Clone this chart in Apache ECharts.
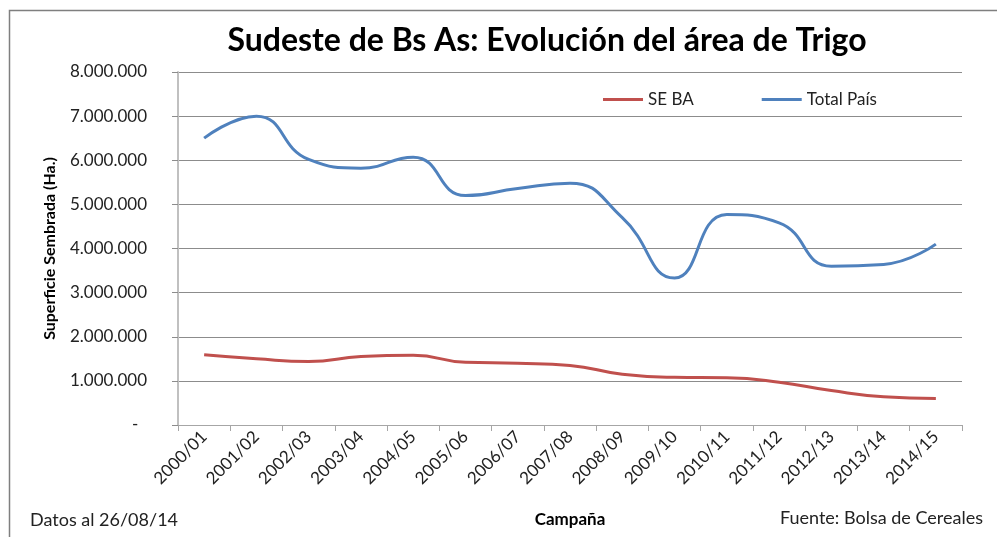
<!DOCTYPE html>
<html>
<head>
<meta charset="utf-8">
<script src="https://cdn.jsdelivr.net/npm/echarts@6/dist/echarts.min.js"></script>
<style>
html, body { margin: 0; padding: 0; background: #fff; }
#chartmain { width: 997px; height: 537px; }
</style>
</head>
<body>
<div id="chartmain"></div>
<script>
var campanias = ['2000/01', '2001/02', '2002/03', '2003/04', '2004/05', '2005/06', '2006/07', '2007/08',
    '2008/09', '2009/10', '2010/11', '2011/12', '2012/13', '2013/14', '2014/15'];
var seBA = [1590000, 1500000, 1440000, 1550000, 1580000, 1420000, 1400000, 1350000,
    1150000, 1080000, 1070000, 970000, 780000, 640000, 600000];
var totalPais = [6500000, 7000000, 6020000, 5820000, 6070000, 5200000, 5360000, 5480000,
    4700000, 3330000, 4770000, 4580000, 3600000, 3640000, 4100000];
var yTicks = [0, 1000000, 2000000, 3000000, 4000000, 5000000, 6000000, 7000000, 8000000];

var fontFam = 'Lato, "Open Sans", sans-serif';

function fmtMiles(v) {
    if (v === 0) return '-  ';
    return String(v).replace(/\B(?=(\d{3})+(?!\d))/g, '.');
}

var chart = echarts.init(document.getElementById('chartmain'), null, { renderer: 'canvas', width: 997, height: 537 });
chart.setOption({
    animation: false,
    textStyle: { fontFamily: fontFam },
    title: {
        text: 'Sudeste de Bs As: Evolución del área de Trigo',
        left: 542, top: 20, textAlign: 'center',
        textStyle: { fontFamily: fontFam, fontSize: 32, fontWeight: 'bold', color: '#000' }
    },
    legend: {
        top: 86, left: 598,
        itemGap: 68, itemWidth: 40, itemHeight: 3,
        icon: 'rect',
        textStyle: { fontFamily: fontFam, fontSize: 17, color: '#222' },
        data: ['SE BA', 'Total País']
    },
    grid: { left: 178, right: 35, top: 72, bottom: 112, containLabel: false },
    xAxis: {
        type: 'category',
        data: campanias,
        boundaryGap: true,
        name: 'Campaña',
        nameLocation: 'middle',
        nameGap: 86,
        nameTextStyle: { fontFamily: fontFam, fontSize: 17, fontWeight: 'bold', color: '#000' },
        axisLine: { lineStyle: { color: '#a6a6a6', width: 1 } },
        axisTick: { show: true, length: 6, interval: 0, lineStyle: { color: '#a6a6a6' } },
        axisLabel: { interval: 0, rotate: 45, margin: 9, fontSize: 17, color: '#222', fontFamily: fontFam }
    },
    yAxis: {
        type: 'value',
        min: 0, max: 8000000, interval: 1000000,
        name: 'Superficie Sembrada (Ha.)',
        nameLocation: 'middle',
        nameGap: 120,
        nameRotate: 90,
        nameTextStyle: { fontFamily: fontFam, fontSize: 16, fontWeight: 'bold', color: '#000' },
        axisLine: { show: true, lineStyle: { color: '#c0c0c0', width: 2 } },
        axisTick: { show: true, length: 6, inside: false, lineStyle: { color: '#8c8c8c' } },
        axisLabel: {
            margin: 31, fontSize: 17, color: '#222', fontFamily: fontFam,
            formatter: function (v) { return yTicks.indexOf(v) >= 0 ? fmtMiles(v) : ''; }
        },
        splitLine: { show: true, lineStyle: { color: '#8c8c8c', width: 1 } }
    },
    series: [{
        name: 'SE BA',
        type: 'line',
        smooth: 0.5,
        symbol: 'none',
        data: seBA,
        itemStyle: { color: '#c0504d' },
        lineStyle: { color: '#c0504d', width: 3 }
    }, {
        name: 'Total País',
        type: 'line',
        smooth: 0.5,
        symbol: 'none',
        data: totalPais,
        itemStyle: { color: '#4f81bd' },
        lineStyle: { color: '#4f81bd', width: 3 }
    }],
    graphic: [{
        type: 'rect',
        shape: { x: 9.5, y: 10.5, width: 1000, height: 540 },
        style: { fill: null, stroke: '#7f7f7f', lineWidth: 1.5 },
        silent: true
    }, {
        type: 'text',
        left: 30, top: 511,
        style: { text: 'Datos al 26/08/14', fontFamily: fontFam, fontSize: 18, fill: '#222' }
    }, {
        type: 'text',
        right: 14, top: 509,
        style: { text: 'Fuente: Bolsa de Cereales', fontFamily: fontFam, fontSize: 18, fill: '#222' }
    }]
});
</script>
</body>
</html>
